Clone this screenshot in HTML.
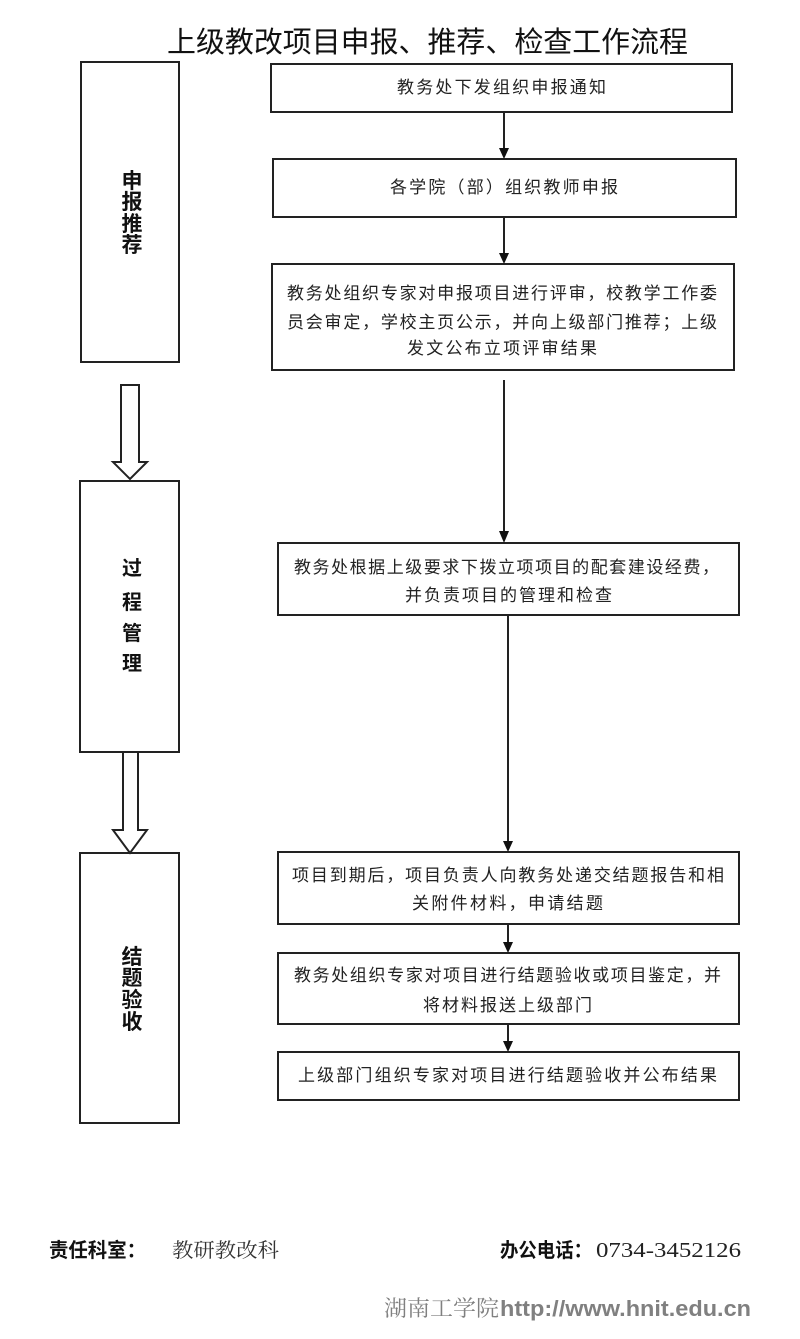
<!DOCTYPE html>
<html><head><meta charset="utf-8"><style>
html,body{margin:0;padding:0;background:#fff;}
svg{display:block;}
.t{font-family:"Liberation Sans","Noto Sans CJK SC",sans-serif;font-size:17px;fill:#222;}
.lb{font-family:"Liberation Sans","Noto Sans CJK SC",sans-serif;font-weight:bold;fill:#111;text-anchor:middle;}
</style></head><body>
<svg width="800" height="1339" viewBox="0 0 800 1339" xmlns="http://www.w3.org/2000/svg">
<rect width="800" height="1339" fill="#fff"/>
<!-- title -->
<text x="167" y="52" textLength="521" lengthAdjust="spacingAndGlyphs" font-family="Liberation Sans, Noto Sans CJK SC, sans-serif" font-size="29" fill="#111">上级教改项目申报、推荐、检查工作流程</text>

<g fill="none" stroke="#222" stroke-width="2">
<!-- left boxes -->
<rect x="81" y="62" width="98" height="300"/>
<rect x="80" y="481" width="99" height="271"/>
<rect x="80" y="853" width="99" height="270"/>
<!-- hollow arrows -->
<path d="M121 385 H139 V462 H147 L130 479 L113 462 H121 Z" stroke-linejoin="miter"/>
<path d="M123 752 H138 V830 H147 L130 853 L113 830 H123 Z" stroke-linejoin="miter"/>
<!-- right boxes -->
<rect x="271" y="64" width="461" height="48"/>
<rect x="273" y="159" width="463" height="58"/>
<rect x="272" y="264" width="462" height="106"/>
<rect x="278" y="543" width="461" height="72"/>
<rect x="278" y="852" width="461" height="72"/>
<rect x="278" y="953" width="461" height="71"/>
<rect x="278" y="1052" width="461" height="48"/>
<!-- connector lines -->
<line x1="504" y1="113" x2="504" y2="150"/>
<line x1="504" y1="218" x2="504" y2="255"/>
<line x1="504" y1="380" x2="504" y2="533"/>
<line x1="508" y1="615" x2="508" y2="843"/>
<line x1="508" y1="925" x2="508" y2="944"/>
<line x1="508" y1="1025" x2="508" y2="1043"/>
</g>
<g fill="#111">
<polygon points="499,148 509,148 504,159"/>
<polygon points="499,253 509,253 504,264"/>
<polygon points="499,531 509,531 504,543"/>
<polygon points="503,841 513,841 508,852"/>
<polygon points="503,942 513,942 508,953"/>
<polygon points="503,1041 513,1041 508,1052"/>
</g>

<!-- left labels -->
<g class="lb" font-size="21">
<text x="132" y="188">申</text>
<text x="132" y="209">报</text>
<text x="132" y="231">推</text>
<text x="132" y="252">荐</text>
</g>
<g class="lb" font-size="20">
<text x="132" y="575">过</text>
<text x="132" y="609">程</text>
<text x="132" y="640">管</text>
<text x="132" y="670">理</text>
</g>
<g class="lb" font-size="21">
<text x="132" y="964">结</text>
<text x="132" y="985">题</text>
<text x="132" y="1007">验</text>
<text x="132" y="1029">收</text>
</g>

<!-- box texts -->
<text class="t" x="397" y="93" textLength="209" lengthAdjust="spacing">教务处下发组织申报通知</text>
<text class="t" x="390" y="193" textLength="228" lengthAdjust="spacing">各学院（部）组织教师申报</text>
<text class="t" x="287" y="299" textLength="430" lengthAdjust="spacing">教务处组织专家对申报项目进行评审，校教学工作委</text>
<text class="t" x="287" y="328" textLength="430" lengthAdjust="spacing">员会审定，学校主页公示，并向上级部门推荐；上级</text>
<text class="t" x="407" y="354" textLength="190" lengthAdjust="spacing">发文公布立项评审结果</text>
<text class="t" x="294" y="573" textLength="425" lengthAdjust="spacing">教务处根据上级要求下拨立项项目的配套建设经费，</text>
<text class="t" x="405" y="601" textLength="207" lengthAdjust="spacing">并负责项目的管理和检查</text>
<text class="t" x="292" y="881" textLength="432" lengthAdjust="spacing">项目到期后，项目负责人向教务处递交结题报告和相</text>
<text class="t" x="412" y="909" textLength="191" lengthAdjust="spacing">关附件材料，申请结题</text>
<text class="t" x="294" y="981" textLength="427" lengthAdjust="spacing">教务处组织专家对项目进行结题验收或项目鉴定，并</text>
<text class="t" x="423" y="1011" textLength="169" lengthAdjust="spacing">将材料报送上级部门</text>
<text class="t" x="298" y="1081" textLength="419" lengthAdjust="spacing">上级部门组织专家对项目进行结题验收并公布结果</text>

<!-- footer -->
<text x="49" y="1257" textLength="97" lengthAdjust="spacingAndGlyphs" font-family="Liberation Sans, Noto Sans CJK SC, sans-serif" font-weight="bold" font-size="20" fill="#111">责任科室：</text>
<text x="172" y="1257" textLength="107" lengthAdjust="spacingAndGlyphs" font-family="Liberation Serif, Noto Serif CJK SC, serif" font-size="20" fill="#333">教研教改科</text>
<text x="500" y="1257" textLength="92" lengthAdjust="spacingAndGlyphs" font-family="Liberation Sans, Noto Sans CJK SC, sans-serif" font-weight="bold" font-size="20" fill="#111">办公电话：</text>
<text x="596" y="1257" textLength="145" lengthAdjust="spacingAndGlyphs" font-family="Liberation Serif, serif" font-size="21" fill="#222">0734-3452126</text>

<text x="384" y="1316" textLength="115" lengthAdjust="spacingAndGlyphs" font-family="Liberation Serif, Noto Serif CJK SC, serif" font-size="22" fill="#808080">湖南工学院</text>
<text x="500" y="1316" textLength="251" lengthAdjust="spacingAndGlyphs" font-family="Liberation Sans, sans-serif" font-weight="bold" font-size="22" fill="#808080">http://www.hnit.edu.cn</text>
</svg>
</body></html>
